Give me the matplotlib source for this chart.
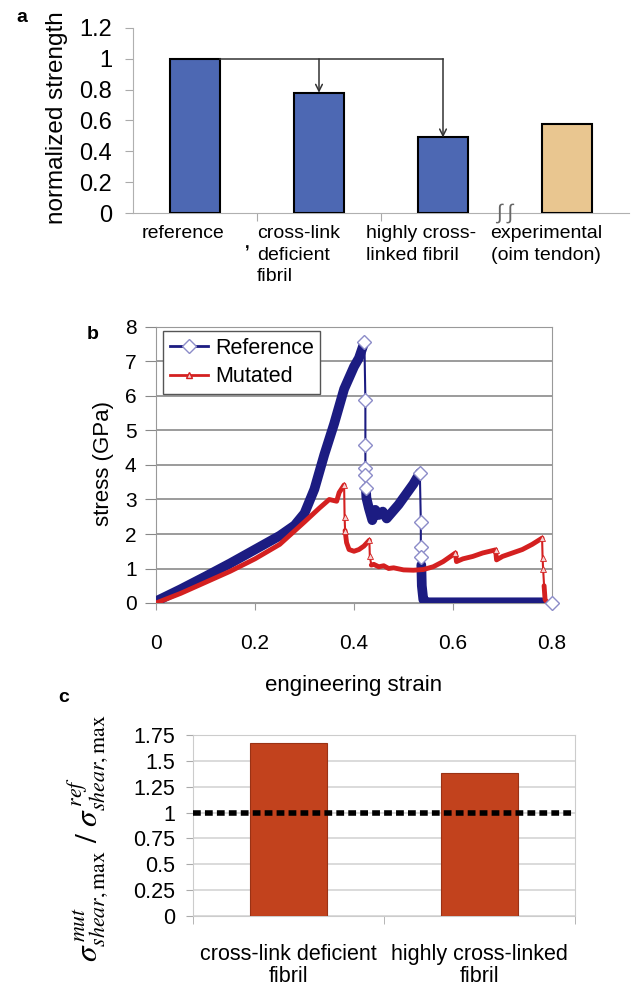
import numpy as np
import matplotlib.pyplot as plt
from matplotlib.lines import Line2D

plt.rcParams['font.family'] = ['Liberation Sans', 'DejaVu Sans']
plt.rcParams['mathtext.fontset'] = 'stix'

# ---- panel a data
cats_a = ['reference', 'cross-link\ndeficient\nfibril', 'highly cross-\nlinked fibril',
          'experimental\n(oim tendon)']
strength = [1.0, 0.78, 0.49, 0.58]
colors_a = ['#4d68b3', '#4d68b3', '#4d68b3', '#e9c690']
yticks_a = [0, 0.2, 0.4, 0.6, 0.8, 1.0, 1.2]
yticklabels_a = ['0', '0.2', '0.4', '0.6', '0.8', '1', '1.2']

# ---- panel b data
ref_strain = [0, 0.05, 0.10, 0.15, 0.20, 0.25, 0.28, 0.30, 0.32, 0.34, 0.36, 0.38, 0.40,
              0.41, 0.421, 0.423, 0.423, 0.423, 0.423, 0.424, 0.425, 0.43, 0.437, 0.443,
              0.45, 0.458, 0.466, 0.475, 0.49, 0.505, 0.52, 0.533, 0.535, 0.535, 0.535,
              0.536, 0.537, 0.54, 0.545, 0.55, 0.60, 0.70, 0.78, 0.80]
ref_stress = [0.05, 0.4, 0.77, 1.15, 1.55, 1.95, 2.25, 2.6, 3.3, 4.3, 5.2, 6.2, 6.85,
              7.1, 7.56, 5.88, 4.58, 3.9, 3.7, 3.33, 3.05, 2.75, 2.4, 2.7, 2.55, 2.65,
              2.45, 2.6, 2.85, 3.15, 3.45, 3.77, 2.35, 1.63, 1.34, 1.1, 0.5, 0.1, 0.03,
              0.02, 0.02, 0.02, 0.02, 0.0]
ref_marks = [14, 15, 16, 17, 18, 19, 31, 32, 33, 34, 43]
ref_dense = [(0, 15), (19, 32), (35, 43)]   # index ranges drawn as the thick band

mut_strain = [0, 0.05, 0.10, 0.15, 0.20, 0.25, 0.30, 0.33, 0.35, 0.365, 0.37, 0.38,
              0.381, 0.382, 0.385, 0.39, 0.40, 0.41, 0.42, 0.431, 0.432, 0.435, 0.44,
              0.45, 0.46, 0.47, 0.48, 0.50, 0.52, 0.54, 0.56, 0.58, 0.605, 0.607, 0.62,
              0.64, 0.66, 0.686, 0.688, 0.70, 0.72, 0.74, 0.76, 0.78, 0.781, 0.782,
              0.784, 0.786, 0.79, 0.80]
mut_stress = [0.0, 0.28, 0.6, 0.92, 1.28, 1.7, 2.35, 2.75, 3.0, 2.95, 3.2, 3.42,
              2.5, 2.1, 1.75, 1.55, 1.5, 1.55, 1.65, 1.82, 1.35, 1.1, 1.12, 1.05, 1.08,
              1.0, 1.02, 0.96, 0.95, 0.97, 1.05, 1.2, 1.45, 1.2, 1.28, 1.35, 1.45, 1.54,
              1.25, 1.35, 1.45, 1.55, 1.7, 1.88, 1.3, 1.0, 0.5, 0.1, 0.02, 0.0]
mut_marks = [11, 12, 13, 19, 20, 32, 37, 43, 44, 45]
mut_dense = [(0, 12), (13, 20), (21, 44), (46, 50)]

xticks_b = [0, 0.2, 0.4, 0.6, 0.8]
xticklabels_b = ['0', '0.2', '0.4', '0.6', '0.8']
yticks_b = [0, 1, 2, 3, 4, 5, 6, 7, 8]

# ---- panel c data
cats_c = ['cross-link deficient\nfibril', 'highly cross-linked\nfibril']
shear_ratio = [1.67, 1.38]
yticks_c = [0, 0.25, 0.5, 0.75, 1.0, 1.25, 1.5, 1.75]
yticklabels_c = ['0', '0.25', '0.5', '0.75', '1', '1.25', '1.5', '1.75']

W, H = 632, 988
fig = plt.figure(figsize=(W / 100, H / 100), dpi=100)


def box(l, t, r, b):
    return [l / W, 1 - b / H, (r - l) / W, (b - t) / H]


# ================= panel a
ax = fig.add_axes(box(133, 28, 629, 213))
x = np.arange(len(cats_a))
ax.bar(x, strength, width=0.4, color=colors_a, edgecolor='black', linewidth=1.5, zorder=3)
ax.set_xlim(-0.5, 3.5)
ax.set_ylim(0, 1.2)
ax.set_yticks(yticks_a)
ax.set_yticklabels(yticklabels_a, fontsize=17)
ax.set_xticks([0.5, 1.5])
ax.set_xticklabels([])
ax.tick_params(axis='both', colors='#aaaaaa', labelcolor='black', length=6)
ax.tick_params(axis='y', pad=9)
for s in ['top', 'right']:
    ax.spines[s].set_visible(False)
for s in ['left', 'bottom']:
    ax.spines[s].set_color('#b0b0b0')

# arrows from the reference bar
ax.plot([0.2, 2], [strength[0], strength[0]], color='#333333', lw=1.1, zorder=4)
for i in (1, 2):
    ax.annotate('', xy=(i, strength[i]), xytext=(i, strength[0]),
                arrowprops=dict(arrowstyle='->', color='#333333', lw=1.1,
                                shrinkA=0, shrinkB=0, mutation_scale=12), zorder=4)

# category labels
lab_y = -0.08
kw = dict(va='top', fontsize=14, clip_on=False, linespacing=1.35)
ax.text(-0.1, lab_y, cats_a[0], ha='center', **kw)
ax.text(0.5, lab_y, cats_a[1], ha='left', **kw)
ax.text(1.38, lab_y, cats_a[2], ha='left', **kw)
ax.text(2.83, lab_y, cats_a[3], ha='center', multialignment='center', **kw)
ax.text(2.5, 0.0, '\u222b \u222b', ha='center', va='center', fontsize=15,
        color='#666666', clip_on=False, zorder=5)
ax.text(0.42, -0.2, ',', ha='center', va='center', fontsize=12, fontweight='bold',
        clip_on=False)

fig.text(57 / W, 1 - 118 / H, 'normalized strength', rotation=90, ha='center',
         va='center', fontsize=17.5)
fig.text(22 / W, 1 - 18 / H, 'a', fontsize=14, fontweight='bold', ha='center', va='center')

# ================= panel b
ax = fig.add_axes(box(156, 327, 552, 603))
navy = '#1c1c82'
red = '#d42020'
ax.plot(ref_strain, ref_stress, color=navy, lw=1.5, zorder=3)
for a, b in ref_dense:
    ax.plot(ref_strain[a:b], ref_stress[a:b], color=navy, lw=7, solid_capstyle='round',
            solid_joinstyle='round', zorder=3)
ax.plot(mut_strain, mut_stress, color=red, lw=1.5, zorder=4)
for a, b in mut_dense:
    ax.plot(mut_strain[a:b], mut_stress[a:b], color=red, lw=3.5, solid_capstyle='round',
            solid_joinstyle='round', zorder=4)
ax.plot(mut_strain, mut_stress, ls='none', marker='^', ms=4, mfc='#f4d0d0', mec=red,
        mew=0.6, markevery=mut_marks, zorder=5)
ax.plot(ref_strain, ref_stress, ls='none', marker='D', ms=7, mfc='white',
        mec='#8c8cc8', mew=1, markevery=ref_marks, zorder=6, clip_on=False)
ax.set_xlim(0, 0.8)
ax.set_ylim(0, 8)
ax.set_xticks(xticks_b)
ax.set_xticklabels(xticklabels_b, fontsize=15)
ax.set_yticks(yticks_b)
ax.set_yticklabels([str(v) for v in yticks_b], fontsize=15)
ax.tick_params(axis='x', colors='#999999', labelcolor='black', length=5, pad=17)
ax.tick_params(axis='y', colors='#888888', labelcolor='black', length=8, pad=6)
ax.grid(axis='y', color='#8a8a8a', lw=1.2)
ax.set_axisbelow(True)
for s in ax.spines.values():
    s.set_color('#999999')

handles = [Line2D([], [], color=navy, lw=2, marker='D', ms=7, mfc='white', mec='#8c8cc8'),
           Line2D([], [], color=red, lw=2, marker='^', ms=4, mfc='#f4d0d0', mec=red)]
leg = ax.legend(handles, ['Reference', 'Mutated'], loc='upper left',
                bbox_to_anchor=(0.018, 0.985), fontsize=15.5, frameon=True, fancybox=False,
                handlelength=1.8, handletextpad=0.3, borderpad=0.3, labelspacing=0.35,
                borderaxespad=0)
leg.get_frame().set_edgecolor('#555555')
leg.get_frame().set_linewidth(1.0)
leg.get_frame().set_alpha(1)

fig.text(354 / W, 1 - 686 / H, 'engineering strain', ha='center', va='center', fontsize=16)
fig.text(103 / W, 1 - 463 / H, 'stress (GPa)', rotation=90, ha='center', va='center',
         fontsize=16)
fig.text(93 / W, 1 - 334 / H, 'b', fontsize=14, fontweight='bold', ha='center', va='center')

# ================= panel c
ax = fig.add_axes(box(193, 735, 575, 916))
xc = np.arange(len(cats_c))
ax.bar(xc, shear_ratio, width=0.4, color='#c2421d', edgecolor='#9a3215', linewidth=0.8,
       zorder=3)
ax.axhline(1.0, color='black', lw=4, ls=(0, (1.4, 0.75)), zorder=4)
ax.set_xlim(-0.5, 1.5)
ax.set_ylim(0, 1.75)
ax.set_yticks(yticks_c)
ax.set_yticklabels(yticklabels_c, fontsize=15.5)
ax.set_xticks(xc)
ax.set_xticklabels(cats_c, fontsize=15.5, linespacing=1.1)
ax.set_xticks([-0.5, 0.5, 1.5], minor=True)
ax.tick_params(axis='x', which='major', length=0, pad=20)
ax.tick_params(axis='x', which='minor', length=6, colors='#aaaaaa')
ax.tick_params(axis='y', length=5, colors='#aaaaaa', labelcolor='black', pad=8)
ax.grid(axis='y', color='#d4d4d4', lw=1.2)
ax.set_axisbelow(True)
for s in ax.spines.values():
    s.set_color('#cccccc')

fig.text(88 / W, 1 - 838 / H,
         r'$\sigma^{\,mut}_{shear,\max}\ /\ \sigma^{\,ref}_{shear,\max}$',
         rotation=90, ha='center', va='center', fontsize=22.5)
fig.text(64 / W, 1 - 698 / H, 'c', fontsize=14, fontweight='bold', ha='center', va='center')

fig.savefig('out.png', dpi=100)
